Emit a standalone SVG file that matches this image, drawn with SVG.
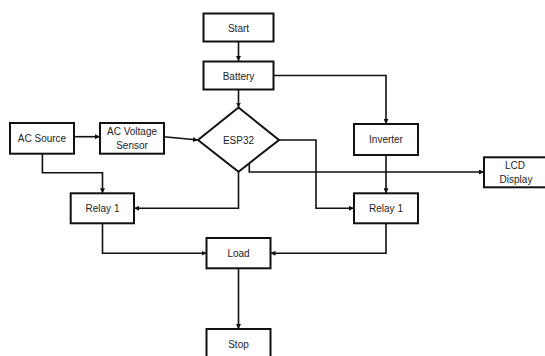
<svg xmlns="http://www.w3.org/2000/svg" width="545" height="356" viewBox="0 0 545 356">
<defs>
<marker id="arr" viewBox="0 0 10 10" refX="10" refY="5" markerWidth="5" markerHeight="5" markerUnits="userSpaceOnUse" orient="auto">
<path d="M0,0 L10,5 L0,10 z" fill="#111"/>
</marker>
<style>
.box{fill:#fff;stroke:#111;stroke-width:2}
.t{font-family:"Liberation Sans",Arial,sans-serif;font-size:10px;fill:#222;text-anchor:middle;dominant-baseline:central}
.c{fill:none;stroke:#111;stroke-width:1.6;marker-end:url(#arr)}
.n{fill:none;stroke:#111;stroke-width:1.6}
</style>
</defs>
<rect width="545" height="356" fill="#fff"/>
<g id="connectors">
<path class="c" d="M238.5,41 V61"/>
<path class="c" d="M238.5,89.5 V107.5"/>
<path class="c" d="M273.5,75.5 H386 V124"/>
<path class="c" d="M74,136.7 H100"/>
<path class="c" d="M164,136.7 L198,140"/>
<path class="c" d="M279,140 H316 V208.3 H354"/>
<path class="c" d="M249.3,163.3 V172 H484"/>
<path class="c" d="M238.5,171.7 V208.3 H134"/>
<path class="c" d="M42.4,153.7 V172.7 H102.5 V193.3"/>
<path class="c" d="M386,155 V193.3"/>
<path class="c" d="M102.5,223.3 V253.3 H206.5"/>
<path class="c" d="M386,223.3 V253.3 H270.5"/>
<path class="c" d="M238.5,268.3 V329"/>
</g>
<g id="start"><rect class="box" x="203.5" y="13.5" width="70" height="28"/><text class="t" x="238.5" y="28">Start</text></g>
<g id="battery"><rect class="box" x="203.5" y="61.5" width="70" height="28"/><text class="t" x="238.5" y="76">Battery</text></g>
<g id="esp32"><path class="box" d="M238.5,107.5 L279,140 L238.5,171.7 L198,140 z"/><text class="t" x="238.5" y="140">ESP32</text></g>
<g id="ac-source"><rect class="box" x="10" y="123" width="64" height="30.7"/><text class="t" x="42" y="138.5">AC Source</text></g>
<g id="ac-voltage-sensor"><rect class="box" x="100" y="123" width="64" height="30.7"/><text class="t" x="132" y="131.5">AC Voltage</text><text class="t" x="132" y="145.5">Sensor</text></g>
<g id="inverter"><rect class="box" x="354" y="124" width="64" height="31"/><text class="t" x="386" y="139.5">Inverter</text></g>
<g id="lcd-display"><rect class="box" x="484" y="157.3" width="64" height="30"/><text class="t" x="515" y="165.5">LCD</text><text class="t" x="516" y="179.5">Display</text></g>
<g id="relay-1-left"><rect class="box" x="70.7" y="193.3" width="63.3" height="30"/><text class="t" x="102.5" y="208.5">Relay 1</text></g>
<g id="relay-1-right"><rect class="box" x="354" y="193.3" width="64" height="30"/><text class="t" x="386" y="208.5">Relay 1</text></g>
<g id="load"><rect class="box" x="206.5" y="238" width="64" height="30.3"/><text class="t" x="238.5" y="253">Load</text></g>
<g id="stop"><rect class="box" x="206.5" y="329" width="64" height="30"/><text class="t" x="238.5" y="344">Stop</text></g>
</svg>
